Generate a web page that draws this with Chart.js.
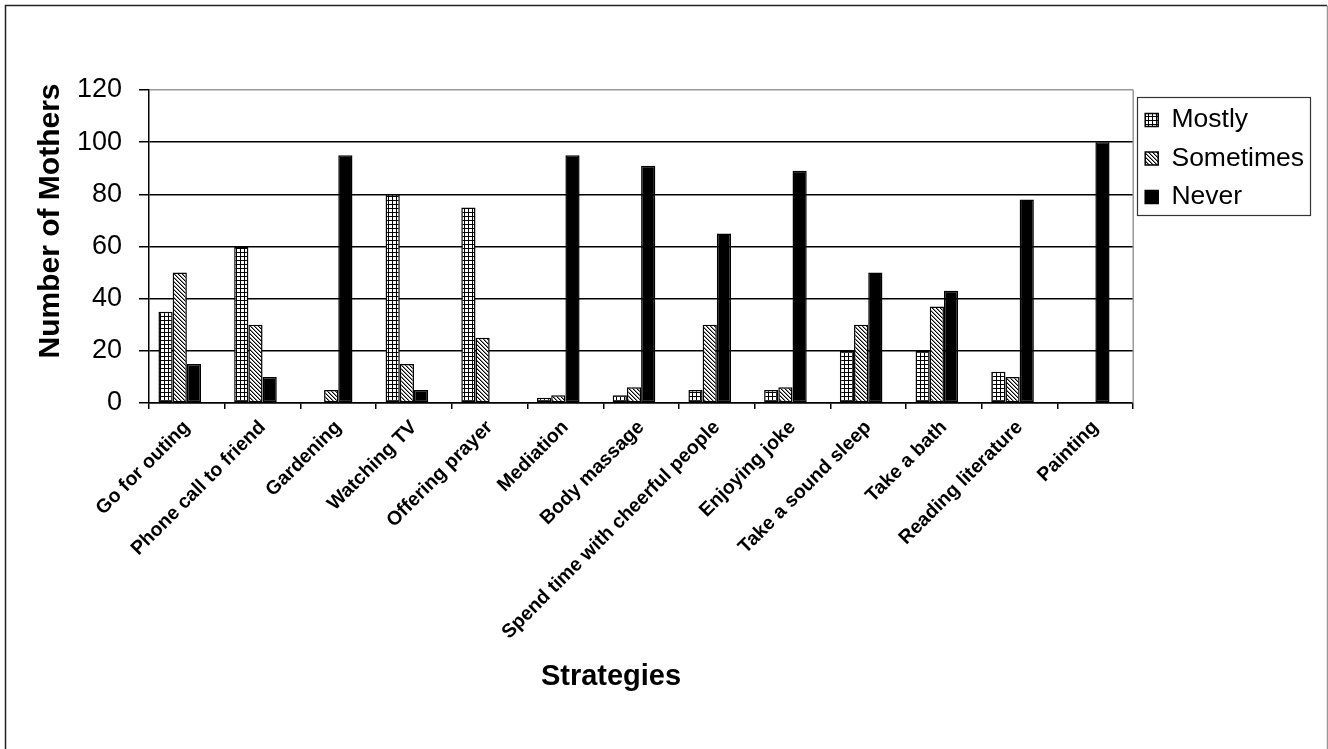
<!DOCTYPE html>
<html>
<head>
<meta charset="utf-8">
<script src="https://cdn.jsdelivr.net/npm/chart.js@4.4.1/dist/chart.umd.min.js"></script>
<style>
  html, body { margin: 0; padding: 0; background: #fff; }
  #wrap { position: relative; width: 1328px; height: 749px; }
</style>
</head>
<body>
<div id="wrap"><canvas id="strategiesChart"></canvas></div>
<script>
const categories = ['Go for outing', 'Phone call to friend', 'Gardening', 'Watching TV', 'Offering prayer',
    'Mediation', 'Body massage', 'Spend time with cheerful people', 'Enjoying joke',
    'Take a sound sleep', 'Take a bath', 'Reading literature', 'Painting'];
const mostly = [35, 60, 0, 80, 75, 2, 3, 5, 5, 20, 20, 12, 0];
const sometimes = [50, 30, 5, 15, 25, 3, 6, 30, 6, 30, 37, 10, 0];
const never = [15, 10, 95, 5, 0, 95, 91, 65, 89, 50, 43, 78, 100];
const seriesNames = ['Mostly', 'Sometimes', 'Never'];
const yMax = 120;
const yStep = 20;
const xTitle = 'Strategies';
const yTitle = 'Number of Mothers';

const FONT = "'Liberation Sans', Arial, sans-serif";

function gridPattern() {
    const c = document.createElement('canvas');
    c.width = 4; c.height = 4;
    const g = c.getContext('2d');
    g.fillStyle = '#fff';
    g.fillRect(0, 0, 4, 4);
    g.fillStyle = '#000';
    g.fillRect(0, 0, 4, 1);
    g.fillRect(0, 0, 1, 4);
    return g.createPattern(c, 'repeat');
}

function hatchPattern() {
    const c = document.createElement('canvas');
    c.width = 4; c.height = 4;
    const g = c.getContext('2d');
    g.fillStyle = '#fff';
    g.fillRect(0, 0, 4, 4);
    for (let i = 0; i < 4; i++) {
        g.fillStyle = '#000';
        g.fillRect(i, i, 1, 1);
        g.fillStyle = 'rgba(0,0,0,0.45)';
        g.fillRect((i + 1) % 4, i, 1, 1);
    }
    return g.createPattern(c, 'repeat');
}

// frame, plot border, legend box and axis titles
const decor = {
    id: 'decor',
    beforeDraw(chart) {
        const ctx = chart.ctx;
        ctx.save();
        ctx.fillStyle = '#fff';
        ctx.fillRect(0, 0, chart.width, chart.height);
        ctx.restore();
    },
    afterDraw(chart) {
        const ctx = chart.ctx;
        const a = chart.chartArea;
        ctx.save();
        // outer frame
        ctx.strokeStyle = '#222';
        ctx.lineWidth = 1.5;
        ctx.beginPath();
        ctx.moveTo(5.5, chart.height + 2);
        ctx.lineTo(5.5, 5.5);
        ctx.lineTo(chart.width - 1, 5.5);
        ctx.stroke();
        ctx.strokeStyle = '#999';
        ctx.beginPath();
        ctx.moveTo(chart.width - 0.5, 5.5);
        ctx.lineTo(chart.width - 0.5, chart.height + 2);
        ctx.stroke();
        // right edge of plot area
        ctx.strokeStyle = '#999';
        ctx.lineWidth = 1.5;
        ctx.beginPath();
        ctx.moveTo(a.right, a.top);
        ctx.lineTo(a.right, a.bottom);
        ctx.stroke();
        // legend box
        const lg = chart.legend;
        const hb = lg.legendHitBoxes;
        if (hb && hb.length) {
            const l = lg.left + 4;
            const r = lg.right - 4;
            const t = hb[0].top - 10;
            const b = hb[hb.length - 1].top + hb[hb.length - 1].height + 4;
            ctx.strokeStyle = '#333';
            ctx.lineWidth = 1.2;
            ctx.strokeRect(Math.round(l) + 0.5, Math.round(t) + 0.5, Math.round(r - l), Math.round(b - t));
        }
        // axis titles
        ctx.fillStyle = '#000';
        ctx.textAlign = 'center';
        ctx.textBaseline = 'middle';
        ctx.font = 'bold 29px ' + FONT;
        ctx.fillText(xTitle, 611, 677);
        ctx.font = 'bold 30px ' + FONT;
        ctx.translate(51, 221);
        ctx.rotate(-Math.PI / 2);
        ctx.fillText(yTitle, 0, 0);
        ctx.restore();
    }
};

document.addEventListener('DOMContentLoaded', () => {
    const ctx = document.getElementById('strategiesChart').getContext('2d');
    const fills = [gridPattern(), hatchPattern(), '#000'];
    const values = [mostly, sometimes, never];

    const datasets = seriesNames.map((name, i) => ({
        label: name,
        data: values[i],
        backgroundColor: fills[i],
        borderColor: '#000',
        borderWidth: 1.5,
        borderSkipped: false,
        categoryPercentage: 0.75,
        barPercentage: 1.0
    }));
    // empty slot after the three bars, so each group sits left of the category centre as in the original
    datasets.push({ label: '', data: [], categoryPercentage: 0.75, barPercentage: 1.0 });

    new Chart(ctx, {
        type: 'bar',
        data: { labels: categories, datasets: datasets },
        options: {
            responsive: true,
            maintainAspectRatio: false,
            animation: false,
            layout: { padding: { top: 90, right: 14, left: 0, bottom: 0 } },
            plugins: {
                tooltip: { enabled: false },
                legend: {
                    position: 'right',
                    align: 'start',
                    title: { display: true, text: '', font: { size: 4 }, padding: 0 },
                    labels: {
                        color: '#000',
                        font: { family: FONT, size: 26.5 },
                        boxWidth: 13,
                        boxHeight: 13,
                        padding: 12,
                        filter: item => item.text !== ''
                    }
                }
            },
            scales: {
                x: {
                    afterFit: s => { s.height = 346; },
                    grid: {
                        offset: true,
                        drawOnChartArea: false,
                        drawTicks: true,
                        tickLength: 6,
                        color: '#000',
                        lineWidth: 1.5
                    },
                    border: { color: '#000', width: 1.5 },
                    ticks: {
                        autoSkip: false,
                        minRotation: 45,
                        maxRotation: 45,
                        padding: 7,
                        color: '#000',
                        font: { family: FONT, size: 19.5, weight: 'bold' }
                    }
                },
                y: {
                    min: 0,
                    max: yMax,
                    afterFit: s => { s.width = 149; },
                    grid: {
                        color: c => (c.tick && c.tick.value === yMax ? '#999' : '#000'),
                        lineWidth: 1.5,
                        tickLength: 10,
                        tickColor: '#000'
                    },
                    border: { color: '#000', width: 1.5 },
                    ticks: {
                        stepSize: yStep,
                        padding: 17,
                        color: '#000',
                        font: { family: FONT, size: 27 }
                    }
                }
            }
        },
        plugins: [decor]
    });
});
</script>
</body>
</html>
